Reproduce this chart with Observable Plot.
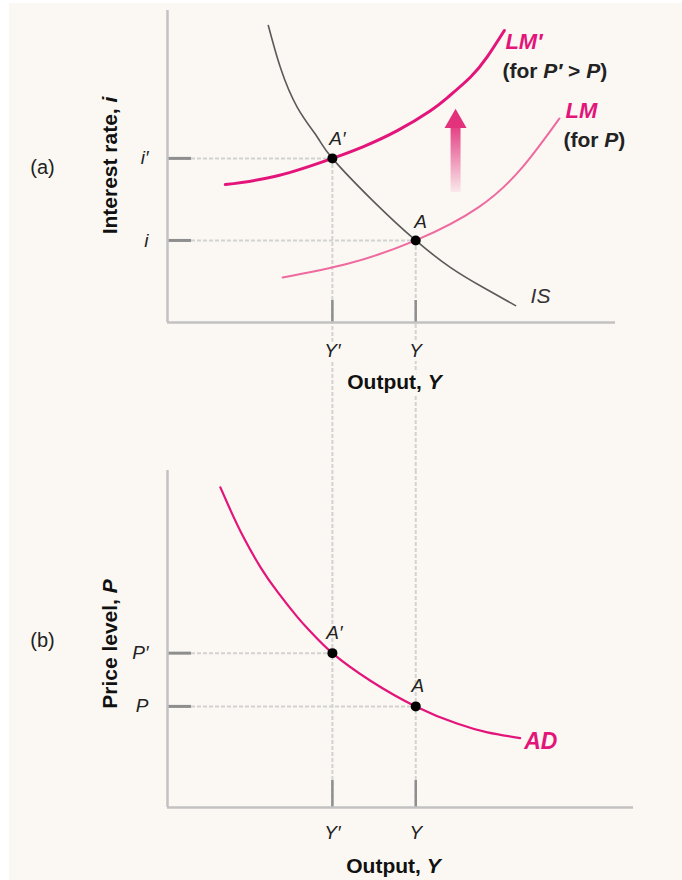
<!DOCTYPE html>
<html><head><meta charset="utf-8">
<script src="https://cdn.jsdelivr.net/npm/d3@7"></script>
<script src="https://cdn.jsdelivr.net/npm/@observablehq/plot@0.6"></script>
<style>
body{margin:0;background:#fff;}
#wrap{position:relative;width:682px;height:880px;overflow:hidden;}
#bg{position:absolute;left:9px;top:3px;width:673px;height:877px;background:#fbf8f3;}
#a,#b{position:absolute;left:0;}
#a{top:0;} #b{top:470px;}
</style></head><body>
<div id="wrap"><div id="bg"></div><div id="a"></div><div id="b"></div></div>
<script>
// ---------- data ----------
// Panel (a): IS–LM, output Y vs interest rate i (arbitrary units 0–100)
const isCurve   = [[22.5,95.2],[25.2,81.7],[29.0,68.9],[33.5,59.3],[36.8,52.6],[46.2,38.5],[55.4,26.3],[63.2,17.6],[70.5,11.2],[77.7,5.4]];
const lmPrimeCurve = [[12.9,44.2],[24.8,47.1],[36.8,52.6],[43.75,56.4],[51.3,61.5],[58.7,67.9],[62.5,72.1],[67.6,78.6],[71.4,85.2],[75.2,93.6]];
const lmCurve   = [[25.7,14.4],[40.4,18.9],[55.4,26.3],[69.4,36.9],[79.2,49.7],[87.5,65.4]];
// Panel (b): AD, output Y vs price level P
const adCurve   = [[11.8,95.0],[14.1,88.1],[17.0,80.1],[20.8,71.2],[24.6,63.9],[29.0,56.5],[31.9,52.2],[36.8,45.8],[45.2,37.7],[55.4,30.0],[64.6,24.9],[71.4,22.3],[78.7,20.6]];

const pointNames    = ["A′", "A"];
const outputValues  = [36.8, 55.4];
const outputTicks   = ["Y′", "Y"];
const interestValues = [52.6, 26.3];
const interestTicks = ["i′", "i"];
const priceValues   = [45.8, 30.0];
const priceTicks    = ["P′", "P"];
const lmShift = {Y: 64.3, from: 41.7, to: 64.4};

const eqA = pointNames.map((n, k) => ({name: n, Y: outputValues[k], v: interestValues[k], yTick: outputTicks[k], vTick: interestTicks[k]}));
const eqB = pointNames.map((n, k) => ({name: n, Y: outputValues[k], v: priceValues[k], yTick: outputTicks[k], vTick: priceTicks[k]}));

// ---------- styles ----------
const BG = "#fbf8f3";
const MAGENTA = "#e3147a";
const PINK = "#ef6a9f";
const AXIS = "#c2c2c2";
const DASH = "#d2d2d2";
const TICKDARK = "#8e8e8e";
const font = "'Liberation Sans', Arial, sans-serif";
const XY = {x: d => d[0], y: d => d[1]};
const CURVE = "natural";

function buildPanel(o) {
  const W = 682;
  const frameH = o.height - o.marginTop - o.marginBottom;
  const pxY = frameH / 100;
  const pxX = (W - o.marginLeft - o.marginRight) / o.xMax;
  const hTick = 24 / pxX, vTick = o.vTickLen / pxY;
  const marks = [
    // guide lines
    Plot.ruleX(o.eq, {x: "Y", y1: o.vy1, y2: o.vy2, stroke: DASH, strokeWidth: 2, strokeDasharray: "4,2"}),
    Plot.ruleY(o.eq, {y: "v", x1: () => 0, x2: "Y", stroke: DASH, strokeWidth: 2, strokeDasharray: "4,2"}),
    Plot.ruleY(o.eq, {y: "v", x1: () => 0, x2: () => hTick, stroke: TICKDARK, strokeWidth: 3}),
    Plot.ruleX(o.eq, {x: "Y", y1: () => 0, y2: () => vTick, stroke: TICKDARK, strokeWidth: 2.5}),
    // axes
    Plot.ruleX([0], {y1: () => 0, y2: () => 100, stroke: AXIS, strokeWidth: 2.5}),
    Plot.ruleY([0], {stroke: AXIS, strokeWidth: 2.5}),
    ...o.curves,
    Plot.dot(o.eq, {x: "Y", y: "v", r: 5, fill: "#000"}),
    Plot.text(o.eq, {x: "Y", y: "v", text: "name", dx: o.ptDx, dy: o.ptDy, fontStyle: "italic", fontSize: 19, fill: "#222"}),
    Plot.text(o.eq, {x: () => 0, y: "v", text: "vTick", textAnchor: "end", dx: -19, fontStyle: "italic", fontSize: 19, fill: "#222"}),
    Plot.text(o.eq, {x: "Y", y: () => 0, text: "yTick", dy: o.tickDy, fontStyle: "italic", fontSize: 19, fill: "#222", stroke: BG, strokeWidth: 8}),
    Plot.text([o.xLabel], {frameAnchor: "bottom", textAnchor: "middle", lineAnchor: "middle", dx: o.xLabelDx, dy: o.xLabelDy, fontWeight: "bold", fontSize: 21, fill: "#111", stroke: BG, strokeWidth: 8}),
    Plot.text([o.yLabel], {frameAnchor: "left", textAnchor: "middle", lineAnchor: "middle", dx: -57, dy: o.yLabelDy, rotate: -90, fontWeight: "bold", fontSize: 21, fill: "#111"}),
    Plot.text([o.panel], {frameAnchor: "left", textAnchor: "middle", lineAnchor: "middle", dx: -125, dy: o.panelDy, fontSize: 20, fill: "#222"}),
    ...o.extra
  ];
  return Plot.plot({
    width: W, height: o.height,
    marginLeft: o.marginLeft, marginRight: o.marginRight, marginTop: o.marginTop, marginBottom: o.marginBottom,
    x: {domain: [0, o.xMax], axis: null},
    y: {domain: [0, 100], axis: null},
    style: {fontFamily: font, background: "transparent", overflow: "visible"},
    marks
  });
}

const last = arr => [arr[arr.length - 1]];

// ---------- panel (a) ----------
const hA = 470, mbA = 148, mtA = 10;
const yBottomA = -mbA / ((hA - mtA - mbA) / 100);
const chartA = buildPanel({
  height: hA, marginTop: mtA, marginBottom: mbA, marginLeft: 167, marginRight: 67, xMax: 100,
  eq: eqA, vy1: "v", vy2: () => yBottomA, vTickLen: 22,
  ptDx: 5, ptDy: -19, tickDy: 28,
  xLabel: "Output, Y", xLabelDx: 3, xLabelDy: 60,
  yLabel: "Interest rate, i", yLabelDy: -1, panel: "(a)", panelDy: 1,
  curves: [
    Plot.line(lmCurve, {...XY, curve: CURVE, stroke: PINK, strokeWidth: 2}),
    Plot.line(isCurve, {...XY, curve: CURVE, stroke: "#5a5a5a", strokeWidth: 1.6}),
    Plot.line(lmPrimeCurve, {...XY, curve: CURVE, stroke: MAGENTA, strokeWidth: 3}),
    Plot.ruleX([lmShift], {x: "Y", y1: "from", y2: "to", stroke: "url(#lmShiftGrad)", strokeWidth: 10}),
    Plot.dot([lmShift], {x: "Y", y: "to", symbol: "triangle", r: 8.2, fill: "#e2327c"})
  ],
  extra: [
    Plot.text(last(lmPrimeCurve), {...XY, text: () => "LM′", textAnchor: "start", dx: 1, dy: 11, fontWeight: "bold", fontStyle: "italic", fontSize: 22, fill: MAGENTA}),
    Plot.text(last(lmPrimeCurve), {...XY, text: () => "(for P′ > P)", textAnchor: "start", dx: -2, dy: 41, fontWeight: "bold", fontSize: 21, fill: "#222"}),
    Plot.text(last(lmCurve), {...XY, text: () => "LM", textAnchor: "start", dx: 6, dy: -7, fontWeight: "bold", fontStyle: "italic", fontSize: 22, fill: MAGENTA}),
    Plot.text(last(lmCurve), {...XY, text: () => "(for P)", textAnchor: "start", dx: 4, dy: 22, fontWeight: "bold", fontSize: 21, fill: "#222"}),
    Plot.text(last(isCurve), {...XY, text: () => "IS", textAnchor: "start", dx: 15, dy: -9, fontStyle: "italic", fontSize: 21, fill: "#333"})
  ]
});

// ---------- panel (b) ----------
const chartB = buildPanel({
  height: 410, marginTop: 0, marginBottom: 73, marginLeft: 167, marginRight: 49, xMax: 104,
  eq: eqB, vy1: () => 100, vy2: () => 0, vTickLen: 27,
  ptDx: 2, ptDy: -20, tickDy: 25,
  xLabel: "Output, Y", xLabelDx: -7, xLabelDy: 59,
  yLabel: "Price level, P", yLabelDy: 5, panel: "(b)", panelDy: 2,
  curves: [
    Plot.line(adCurve, {...XY, curve: CURVE, stroke: MAGENTA, strokeWidth: 2.2})
  ],
  extra: [
    Plot.text(last(adCurve), {...XY, text: () => "AD", textAnchor: "start", dx: 4, dy: 4, fontWeight: "bold", fontStyle: "italic", fontSize: 23, fill: MAGENTA})
  ]
});

document.getElementById("a").append(chartA);
document.getElementById("b").append(chartB);

// gradient for the upward shift arrow, positioned through the y scale
const ys = chartA.scale("y");
const defs = d3.select(chartA).insert("defs", ":first-child");
const g = defs.append("linearGradient").attr("id", "lmShiftGrad").attr("gradientUnits", "userSpaceOnUse")
  .attr("x1", 0).attr("x2", 0).attr("y1", ys.apply(lmShift.from)).attr("y2", ys.apply(lmShift.to));
g.append("stop").attr("offset", 0).attr("stop-color", "#e2327c").attr("stop-opacity", 0.08);
g.append("stop").attr("offset", 1).attr("stop-color", "#e2327c").attr("stop-opacity", 1);

// italic variables inside mixed labels
const italicParts = {
  "Output, Y": [["Output, ", 0], ["Y", 1]],
  "Interest rate, i": [["Interest rate, ", 0], ["i", 1]],
  "Price level, P": [["Price level, ", 0], ["P", 1]],
  "(for P′ > P)": [["(for ", 0], ["P′", 1], [" > ", 0], ["P", 1], [")", 0]],
  "(for P)": [["(for ", 0], ["P", 1], [")", 0]]
};
for (const chart of [chartA, chartB]) {
  d3.select(chart).selectAll("text").each(function() {
    const parts = italicParts[this.textContent];
    if (!parts) return;
    const t = d3.select(this);
    t.text(null);
    for (const [s, it] of parts) t.append("tspan").text(s).attr("font-style", it ? "italic" : null);
  });
}
</script>
</body></html>
